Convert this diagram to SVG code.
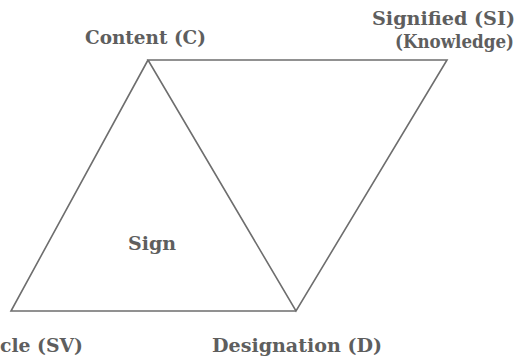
<svg xmlns="http://www.w3.org/2000/svg" width="520" height="357" viewBox="0 0 520 357">
<style>
.lbl{font-family:"DejaVu Serif Condensed","DejaVu Serif","Liberation Serif",serif;font-weight:bold;font-size:18.5px;fill:#5e5e5e}
.edge{stroke:#6e6e6e;stroke-width:1.6;fill:none;stroke-linejoin:miter}
</style>
<rect width="520" height="357" fill="#ffffff"/>
<g id="connectors">
<path class="edge" d="M148,60 L447,60 L296,311 Z"/>
<path class="edge" d="M148,60 L11,311 L296,311"/>
</g>
<g id="content"><text class="lbl" x="85" y="44" textLength="121" lengthAdjust="spacingAndGlyphs">Content (C)</text></g>
<g id="signified"><text class="lbl" x="515" y="25" text-anchor="end" textLength="143" lengthAdjust="spacingAndGlyphs">Signified (SI)</text><text class="lbl" x="514" y="48" text-anchor="end" textLength="119" lengthAdjust="spacingAndGlyphs">(Knowledge)</text></g>
<g id="sign"><text class="lbl" x="128" y="250" textLength="48" lengthAdjust="spacingAndGlyphs">Sign</text></g>
<g id="sign-vehicle"><text class="lbl" x="0" y="352" textLength="83" lengthAdjust="spacingAndGlyphs">cle (SV)</text></g>
<g id="designation"><text class="lbl" x="212" y="352" textLength="170" lengthAdjust="spacingAndGlyphs">Designation (D)</text></g>
</svg>
